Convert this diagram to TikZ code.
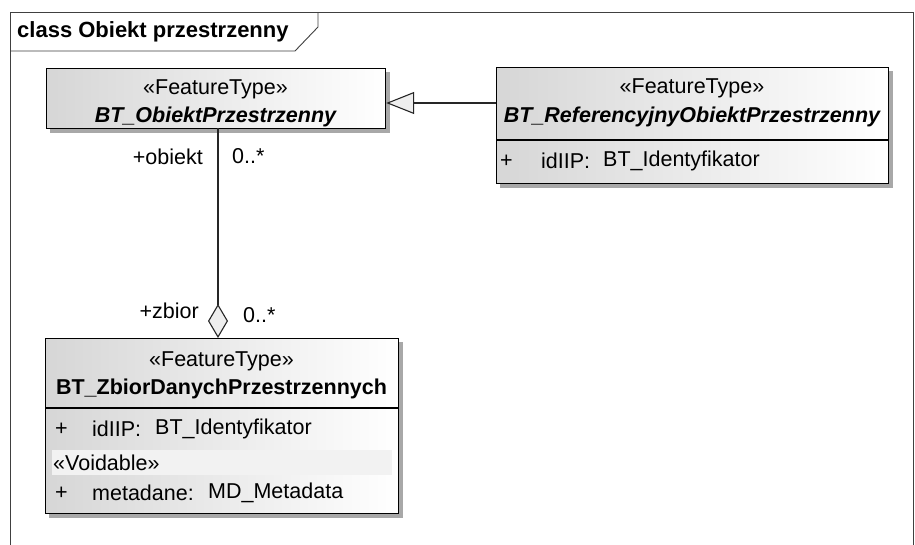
\documentclass[tikz,border=0pt]{standalone}
\usepackage{fontspec}
\setmainfont{Liberation Sans}
\usetikzlibrary{arrows.meta,calc}
\definecolor{framec}{HTML}{404040}
\definecolor{shadowc}{HTML}{A8A8A8}
\definecolor{bandc}{HTML}{F2F2F2}
\definecolor{diafill}{HTML}{EEEEEE}
\tikzset{
  umlbox/.style={draw=black, line width=1.2pt, left color=black!16, right color=white, inner sep=0pt},
  shadowbox/.style={fill=shadowc, draw=none},
  txt/.style={inner sep=0pt, font=\fontsize{21.5}{25}\selectfont},
  stereo/.style={txt},
  clsname/.style={txt, font=\fontsize{21.5}{25}\selectfont\bfseries\itshape},
  clsnameup/.style={txt, font=\fontsize{21.5}{25}\selectfont\bfseries},
  attr/.style={txt, anchor=west},
  lbl/.style={txt},
  conn/.style={draw=black!85, line width=1.2pt}
}
\begin{document}
\begin{tikzpicture}[x=1pt,y=-1pt]
\useasboundingbox (0,0) rectangle (915,544);
\fill[white] (0,0) rectangle (915,544);
% frame
\draw[framec, line width=0.9pt] (10,560) -- (10,12) -- (913,12) -- (913,560);
\draw[framec, line width=0.9pt] (10,51) -- (295,51) -- (318,27) -- (318,12);
\node[txt, anchor=west, font=\fontsize{22}{25}\selectfont\bfseries] (title) at (17,32) {class Obiekt przestrzenny};

% shadows
\fill[shadowbox] (50,72) rectangle (390,133);
\fill[shadowbox] (500,71) rectangle (893,188);
\fill[shadowbox] (49,342) rectangle (403,518);

% Box 1
\node[umlbox, anchor=north west, minimum width=339pt, minimum height=60pt] (obj) at (46,68) {};
\node[stereo] (objst) at (215.5,89) {«FeatureType»};
\node[clsname] (objnm) at (215.5,117) {BT\_ObiektPrzestrzenny};

% Box 2
\node[umlbox, anchor=north west, minimum width=392pt, minimum height=116pt] (ref) at (496,67) {};
\draw[black, line width=1.2pt] (496,140) -- (888,140);
\node[stereo] (refst) at (692,88) {«FeatureType»};
\node[clsname] (refnm) at (692,117) {BT\_ReferencyjnyObiektPrzestrzenny};
\node[attr] (refp) at (500,161) {+};
\node[attr] (refa) at (541,161) {idIIP:};
\node[attr] (reft) at (603,161) {BT\_Identyfikator};

% Box 3
\node[umlbox, anchor=north west, minimum width=353pt, minimum height=175pt] (zb) at (45,338) {};
\draw[black, line width=1.2pt] (45,408) -- (398,408);
\fill[bandc] (52,450) rectangle (392,475);
\node[stereo] (zbst) at (221.5,361) {«FeatureType»};
\node[clsnameup] (zbnm) at (221.5,389) {BT\_ZbiorDanychPrzestrzennych};
\node[attr] (zbp1) at (55,429) {+};
\node[attr] (zba1) at (92,429) {idIIP:};
\node[attr] (zbt1) at (155,429) {BT\_Identyfikator};
\node[attr] (zbv) at (53,463) {«Voidable»};
\node[attr] (zbp2) at (55,493) {+};
\node[attr] (zba2) at (92,493) {metadane:};
\node[attr] (zbt2) at (208,493) {MD\_Metadata};

% generalization
\coordinate (gtip) at ($(obj.north east)+(0,35)$);
\coordinate (gstart) at (gtip -| ref.west);
\draw[conn, -{Triangle[open, length=28pt, width=22pt, fill=diafill, line width=1.1pt]}] (gstart) -- (gtip);

% aggregation
\coordinate (atop) at (218,128);
\coordinate (abot) at (218,338);
\draw[conn, -{Diamond[open, length=34pt, width=20pt, fill=diafill, line width=1.1pt]}] (atop) -- (abot);

% labels
\node[lbl, anchor=east] (l1) at (203,157) {+obiekt};
\node[lbl, anchor=west] (l2) at (232,156) {0..*};
\node[lbl, anchor=east] (l3) at (199,311) {+zbior};
\node[lbl, anchor=west] (l4) at (243,315) {0..*};
\end{tikzpicture}
\end{document}
